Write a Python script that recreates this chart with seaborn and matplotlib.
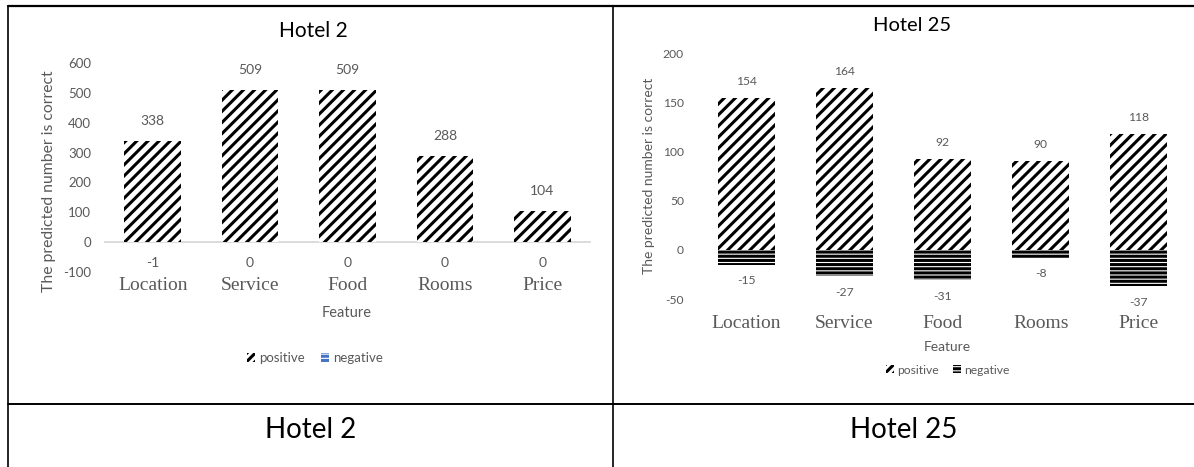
import matplotlib
matplotlib.use("Agg")
import matplotlib.pyplot as plt
import seaborn as sns
from matplotlib.patches import Patch
from matplotlib.lines import Line2D

# ---------------- data ----------------
features = ["Location", "Service", "Food", "Rooms", "Price"]
hotel2_positive = [338, 509, 509, 288, 104]
hotel2_negative = [-1, 0, 0, 0, 0]
hotel25_positive = [154, 164, 92, 90, 118]
hotel25_negative = [-15, -27, -31, -8, -37]
hotel2_yticks = [-100, 0, 100, 200, 300, 400, 500, 600]
hotel25_yticks = [-50, 0, 50, 100, 150, 200]
panel_titles = ["Hotel 2", "Hotel 25"]
ylabel_text = "The predicted number is correct"
xlabel_text = "Feature"
legend_labels = ["positive", "negative"]

# ---------------- style ----------------
sns.set_theme(style="white")
plt.rcParams["font.family"] = ["Lato", "DejaVu Sans"]
plt.rcParams["hatch.linewidth"] = 2.2

W, H = 1194, 467
fig = plt.figure(figsize=(W / 100, H / 100), dpi=100)
fig.patch.set_facecolor("white")
GRAY = "#595959"
BLUE = "#4472C4"


def px_axes(l, r, t, b):
    return fig.add_axes([l / W, 1 - b / H, (r - l) / W, (b - t) / H])


def fx(x):
    return x / W


def fy(y):
    return 1 - y / H


def draw_panel(ax, pos, neg, yticks, neg_color, cfg):
    sns.barplot(x=features, y=pos, ax=ax, color="white", edgecolor="black",
                linewidth=0, hatch="///", width=0.58, saturation=1, errorbar=None)
    sns.barplot(x=features, y=neg, ax=ax, color="white", edgecolor=neg_color,
                linewidth=0, hatch="----", width=0.58, saturation=1, errorbar=None)
    ax.set_xlim(-0.5, len(features) - 0.5)
    ax.set_ylim(yticks[0], yticks[-1])
    ax.set_yticks(yticks)
    ax.set_yticklabels([str(t) for t in yticks], color=GRAY, fontsize=cfg["tick_fs"])
    ax.set_xticks(range(len(features)))
    ax.set_xticklabels(features, color=GRAY, fontsize=14, family="Liberation Serif")
    ax.tick_params(axis="y", length=0, pad=cfg["ypad"])
    ax.tick_params(axis="x", length=0, pad=cfg["xpad"])
    for s in ax.spines.values():
        s.set_visible(False)
    ax.set_facecolor("none")
    ax.set_ylabel(ylabel_text, color=GRAY, fontsize=cfg["ylab_fs"])
    ax.yaxis.set_label_coords(*cfg["ylab_xy"])
    ax.set_xlabel(xlabel_text, color=GRAY, fontsize=cfg["xlab_fs"])
    ax.xaxis.set_label_coords(*cfg["xlab_xy"])
    for i, v in enumerate(pos):
        ax.annotate(str(v), (i, v), xytext=(0, cfg["pos_off"]), textcoords="offset points",
                    ha="center", va="center", color=GRAY, fontsize=cfg["val_fs"])
    for i, v in enumerate(neg):
        ax.annotate(str(v), (i, v), xytext=(0, -cfg["neg_off"]), textcoords="offset points",
                    ha="center", va="center", color=GRAY, fontsize=cfg["val_fs"])


# ---------------- left panel: Hotel 2 ----------------
ax1 = px_axes(104, 591, 63, 272)
draw_panel(ax1, hotel2_positive, hotel2_negative, hotel2_yticks, BLUE,
           dict(tick_fs=9.5, ypad=9.4, xpad=3.6, ylab_fs=11.3, ylab_xy=(-0.099, 0.435),
                xlab_fs=10.5, xlab_xy=(0.499, -0.163), pos_off=14.4, neg_off=15, val_fs=10))
ax1.axhline(0, color="#D9D9D9", lw=1.3, zorder=0)
fig.text(fx(313), fy(37), panel_titles[0], ha="center", va="baseline", fontsize=15, color="black")

h_pos = Patch(facecolor="white", edgecolor="black", hatch="////", linewidth=0)
h_neg1 = Patch(facecolor="white", edgecolor=BLUE, hatch="----", linewidth=0)
leg1 = fig.legend([h_pos, h_neg1], legend_labels, loc="center",
                  bbox_to_anchor=(fx(315), fy(358)), bbox_transform=fig.transFigure,
                  ncol=2, frameon=False, fontsize=9.5, handlelength=0.6, handleheight=0.6,
                  handletextpad=0.3, columnspacing=1.2, labelcolor=GRAY)

# ---------------- right panel: Hotel 25 ----------------
ax2 = px_axes(697, 1188, 53, 299)
draw_panel(ax2, hotel25_positive, hotel25_negative, hotel25_yticks, "black",
           dict(tick_fs=8.7, ypad=9.4, xpad=11.5, ylab_fs=10, ylab_xy=(-0.0855, 0.50),
                xlab_fs=9.9, xlab_xy=(0.509, -0.171), pos_off=12, neg_off=11.5, val_fs=8.7))
fig.text(fx(912), fy(31), panel_titles[1], ha="center", va="baseline", fontsize=14.5, color="black")

h_neg2 = Patch(facecolor="white", edgecolor="black", hatch="----", linewidth=0)
leg2 = fig.legend([h_pos, h_neg2], legend_labels, loc="center",
                  bbox_to_anchor=(fx(948), fy(370)), bbox_transform=fig.transFigure,
                  ncol=2, frameon=False, fontsize=8.7, handlelength=0.6, handleheight=0.6,
                  handletextpad=0.3, columnspacing=1.2, labelcolor=GRAY)

# ---------------- table grid ----------------
lines = [
    ((8, 1194), (6, 6), 1.6),
    ((8, 8), (6, 467), 1.2),
    ((613, 613), (6, 467), 1.2),
    ((8, 1194), (404, 404), 1.4),
]
for xs, ys, lw in lines:
    fig.add_artist(Line2D([fx(xs[0]), fx(xs[1])], [fy(ys[0]), fy(ys[1])],
                          color="black", lw=lw, transform=fig.transFigure))

fig.text(fx(311), fy(438), panel_titles[0], ha="center", va="baseline", fontsize=20, color="black")
fig.text(fx(904), fy(438), panel_titles[1], ha="center", va="baseline", fontsize=20, color="black")

fig.savefig("out.png", dpi=100, facecolor="white")
